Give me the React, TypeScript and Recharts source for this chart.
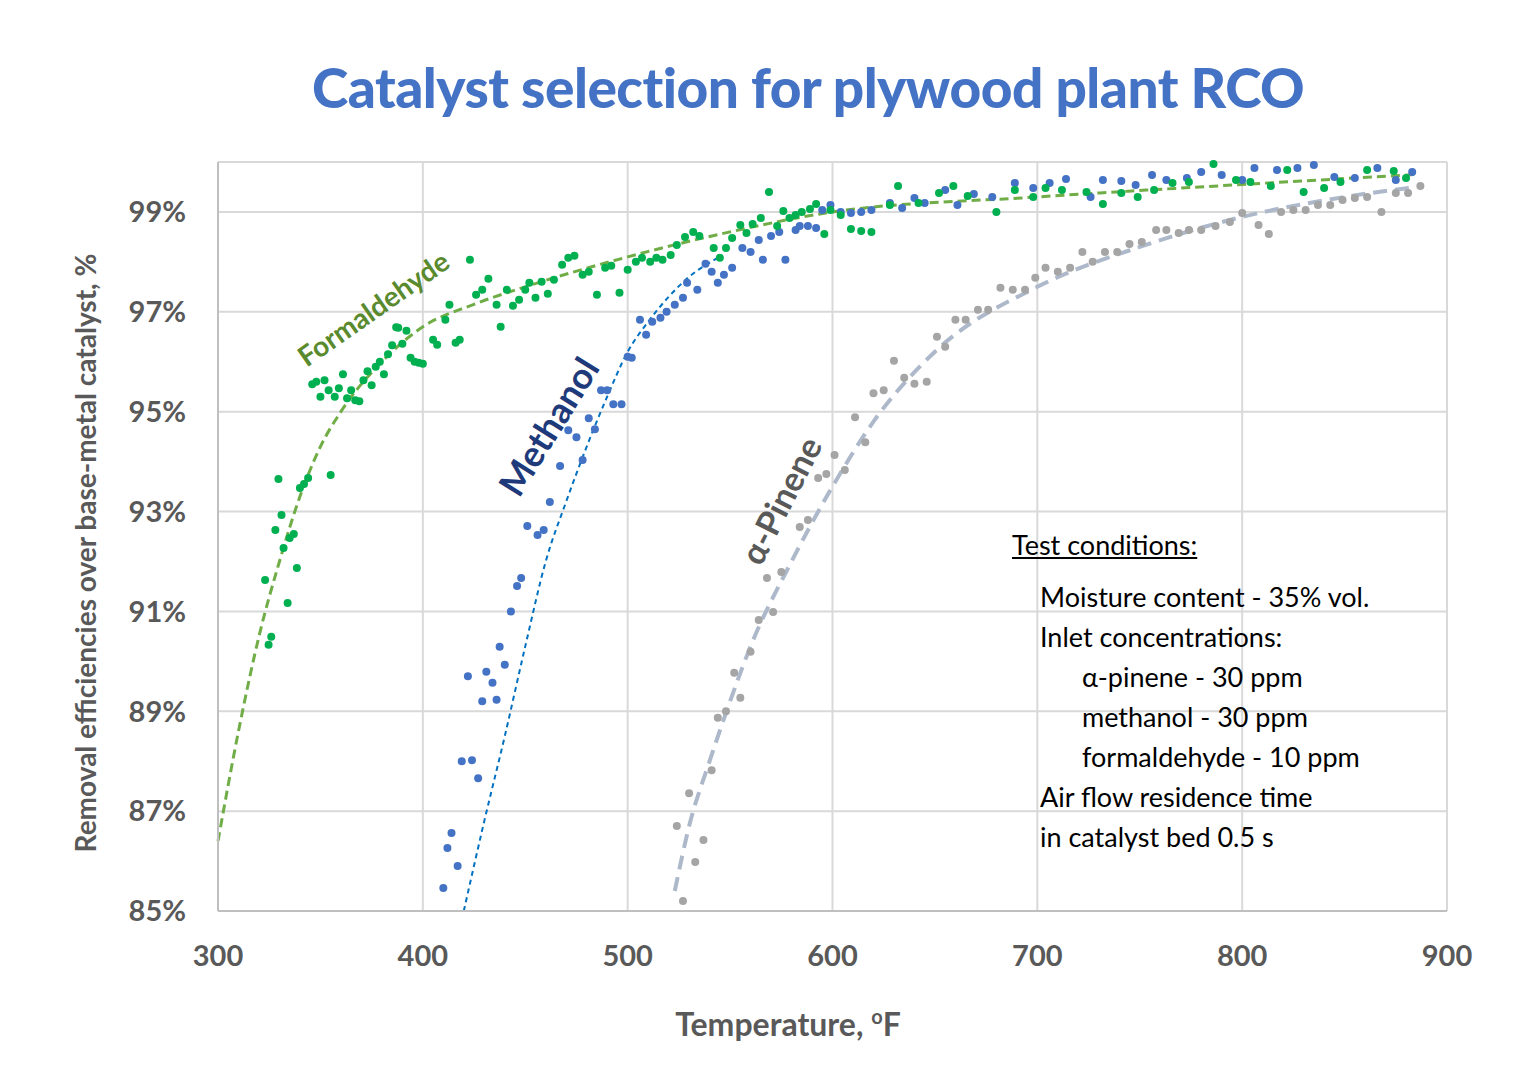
import React from "react";
import { ComposedChart, Scatter, Line, XAxis, YAxis, CartesianGrid } from "recharts";

const formaldehydeX = [323,324.7,326,328,329.5,331,332,334,335,337,338.5,340,342,344,346,348,350,352,354,355,357,359,361,363,365,367,369,371,373,375,377,379,381,383,385,387,388,390,392,394,396,398,400,405,407,411,413,416,418,423,426,429,432,436,438,441,444,447,450,452,455,458,461,464,468,471,474,478,481,485,489,492,496,500,504,507,511,514,517,521,524,528,532,535,542,545,548,551,555,558,561,565,569,573,576,579,582,585,589,592,596,599,604,609,614,619,628,632,642,652,659,666,680,689,698,704,712,724,732,741,749,757,766,774,786,797,804,814,822,830,840,848,861,874,880];
const formaldehydeY = [91.63,90.33,90.49,92.63,93.65,92.93,92.27,91.17,92.47,92.55,91.87,93.47,93.55,93.67,95.55,95.6,95.3,95.63,95.43,93.73,95.3,95.47,95.75,95.27,95.43,95.23,95.21,95.63,95.81,95.53,95.9,96.0,95.75,96.15,96.33,96.69,96.68,96.36,96.62,96.08,96.0,95.98,95.96,96.44,96.34,96.84,97.14,96.38,96.44,98.04,97.34,97.44,97.66,97.14,96.7,97.44,97.12,97.24,97.44,97.58,97.28,97.6,97.36,97.64,97.94,98.08,98.12,97.74,97.8,97.34,97.88,97.92,97.38,97.84,98.0,98.08,98.0,98.08,98.04,98.14,98.34,98.5,98.6,98.52,98.28,98.08,98.28,98.48,98.74,98.58,98.76,98.88,99.4,98.72,99.02,98.88,98.94,99.0,99.06,99.16,98.56,99.04,98.94,98.66,98.62,98.6,99.14,99.52,99.18,99.38,99.52,99.32,99.0,99.44,99.3,99.48,99.44,99.4,99.16,99.38,99.3,99.44,99.58,99.6,99.96,99.64,99.6,99.52,99.84,99.4,99.48,99.6,99.84,99.82,99.68];

const methanolX = [410,412,414,417,419,422,424,427,429,431,434,436,437.5,440,443,446,448,451,456,459,462,467,471,475,478,481,484,487,490,493,497,500,502,506,509,512,516,519,523,527,529,534,538,541,544,547,551,556,560,564,566,570,574,577,582,584,588,592,595,599,604,609,614,619,628,634,640,645,655,661,669,678,689,698,706,714,726,732,741,748,756,763,773,780,790,800,806,817,827,835,845,855,866,875,883];
const methanolY = [85.46,86.26,86.56,85.9,88.0,89.7,88.02,87.66,89.2,89.79,89.57,89.23,90.29,89.93,91.0,91.51,91.67,92.71,92.53,92.63,93.19,93.91,94.63,94.49,94.03,94.87,94.65,95.43,95.43,95.15,95.15,96.1,96.08,96.84,96.54,96.8,96.88,97.0,97.14,97.28,97.58,97.44,97.96,97.8,97.58,97.74,97.88,98.28,98.2,98.44,98.04,98.52,98.6,98.04,98.64,98.72,98.72,98.68,99.04,99.14,99.0,98.98,99.0,99.04,99.18,99.08,99.28,99.18,99.44,99.14,99.36,99.3,99.58,99.48,99.58,99.66,99.3,99.64,99.62,99.54,99.74,99.64,99.68,99.8,99.74,99.64,99.88,99.84,99.88,99.94,99.7,99.68,99.88,99.64,99.8];

const pineneX = [524,527,530,533,537,541,544,548,552,555,560,564,568,571,575,584,588,593,597,601,606,611,616,620,625,630,635,640,646,651,655,660,665,671,676,682,688,694,699,704,710,716,722,727,733,739,745,751,758,763,769,774,780,787,794,800,808,813,819,825,831,837,843,849,855,861,868,875,881,887];
const pineneY = [86.7,85.2,87.36,85.98,86.42,87.82,88.87,89.0,89.77,89.27,90.19,90.83,91.67,90.99,91.79,92.69,92.83,93.67,93.75,94.13,93.83,94.89,94.39,95.37,95.43,96.02,95.68,95.56,95.6,96.5,96.3,96.84,96.84,97.04,97.04,97.48,97.44,97.44,97.68,97.88,97.8,97.88,98.2,98.0,98.2,98.2,98.36,98.4,98.64,98.64,98.58,98.64,98.64,98.72,98.8,98.98,98.74,98.56,99.0,99.04,99.04,99.14,99.14,99.24,99.28,99.3,99.0,99.38,99.38,99.52];

const fTrendX = [300,310,320,330,340,350,360,380,400,425,450,500,550,600,700,800,885];
const fTrendY = [86.4,88.6,90.5,92.0,93.3,94.3,95.0,96.0,96.7,97.15,97.5,98.1,98.6,99.0,99.3,99.55,99.75];
const mTrendX = [420,430,440,450,460,470,480,490,500,510,520,530,545];
const mTrendY = [85,86.8,88.5,90.3,92.0,93.2,94.3,95.3,96.2,96.8,97.3,97.7,98.1];
const pTrendX = [523,530,540,550,560,580,600,620,650,700,750,800,850,885];
const pTrendY = [85.4,86.7,88.0,89.2,90.3,92.0,93.5,94.8,96.2,97.5,98.3,98.9,99.3,99.5];

const xTicks = [300, 400, 500, 600, 700, 800, 900];
const yTicks = [85, 87, 89, 91, 93, 95, 97, 99];

const zip = (xs: number[], ys: number[]) => xs.map((x, i) => ({ x, y: ys[i] }));
const fData = zip(formaldehydeX, formaldehydeY);
const mData = zip(methanolX, methanolY);
const pData = zip(pineneX, pineneY);
const fTrend = zip(fTrendX, fTrendY);
const mTrend = zip(mTrendX, mTrendY);
const pTrend = zip(pTrendX, pTrendY);

const dot = (color: string) => (p: any) => <circle cx={p.cx} cy={p.cy} r={4} fill={color} />;

const font = "Lato, 'Open Sans', sans-serif";
const abs = (s: React.CSSProperties): React.CSSProperties => ({ position: "absolute", whiteSpace: "nowrap", fontFamily: font, ...s });

export default function App() {
  return (
    <div style={{ position: "relative", width: 1518, height: 1070 }}>
      <ComposedChart width={1518} height={1070} margin={{ top: 154, right: 79, bottom: 107, left: 110 }}>
        <CartesianGrid stroke="#D9D9D9" strokeWidth={2} />
        <XAxis type="number" dataKey="x" domain={[300, 900]} ticks={xTicks} height={60} stroke="#BFBFBF" strokeWidth={2} tickLine={false}
          tick={{ fill: "#595959", fontSize: 29, fontWeight: 700, fontFamily: font }} tickMargin={28} allowDuplicatedCategory={false} />
        <YAxis type="number" dataKey="y" domain={[85, 100]} ticks={yTicks} width={100} stroke="#BFBFBF" strokeWidth={2} tickLine={false}
          tick={{ fill: "#595959", fontSize: 29, fontWeight: 700, fontFamily: font }} tickFormatter={(v) => `${v}%`} tickMargin={26} />
        <Scatter data={pData} shape={dot("#A5A5A5")} isAnimationActive={false} />
        <Scatter data={mData} shape={dot("#4472C4")} isAnimationActive={false} />
        <Scatter data={fData} shape={dot("#00B050")} isAnimationActive={false} />
        <Line data={pTrend} dataKey="y" type="monotone" stroke="#ADB9CA" strokeWidth={4} strokeDasharray="14 8" dot={false} isAnimationActive={false} />
        <Line data={mTrend} dataKey="y" type="monotone" stroke="#0070C0" strokeWidth={2} strokeDasharray="5 4" dot={false} isAnimationActive={false} />
        <Line data={fTrend} dataKey="y" type="monotone" stroke="#70AD47" strokeWidth={3} strokeDasharray="9 5" dot={false} isAnimationActive={false} />
      </ComposedChart>
      <div style={abs({ left: 0, width: 1600, top: 46, textAlign: "center", color: "#4472C4", fontSize: 55, fontWeight: 900, letterSpacing: -0.5 })}>Catalyst selection for plywood plant RCO</div>
      <div style={abs({ left: 0, width: 1560, top: 996, textAlign: "center", color: "#595959", fontSize: 32, fontWeight: 700 })}>Temperature, <sup style={{ fontSize: 20 }}>o</sup>F</div>
      <div style={abs({ left: 77, top: 545, transform: "translate(-50%,-50%) rotate(-90deg)", color: "#595959", fontSize: 28, fontWeight: 700 })}>Removal efficiencies over base-metal catalyst, %</div>
      <div style={abs({ left: 365, top: 300, transform: "translate(-50%,-50%) rotate(-35deg)", color: "#5A8A2E", fontSize: 28, fontWeight: 700 })}>Formaldehyde</div>
      <div style={abs({ left: 540, top: 418, transform: "translate(-50%,-50%) rotate(-58deg)", color: "#1F3A7A", fontSize: 36, fontWeight: 700 })}>Methanol</div>
      <div style={abs({ left: 772, top: 492, transform: "translate(-50%,-50%) rotate(-63deg)", color: "#595959", fontSize: 34, fontWeight: 700 })}>α-Pinene</div>
      <div style={abs({ left: 1004, top: 520, color: "#000", fontSize: 27, textDecoration: "underline" })}>Test conditions:</div>
      <div style={abs({ left: 1032, top: 569, color: "#000", fontSize: 27, lineHeight: "40px" })}>
        <div>Moisture content - 35% vol.</div>
        <div>Inlet concentrations:</div>
        <div style={{ paddingLeft: 42 }}>α-pinene - 30 ppm</div>
        <div style={{ paddingLeft: 42 }}>methanol - 30 ppm</div>
        <div style={{ paddingLeft: 42 }}>formaldehyde - 10 ppm</div>
        <div>Air flow residence time</div>
        <div>in catalyst bed 0.5 s</div>
      </div>
    </div>
  );
}
